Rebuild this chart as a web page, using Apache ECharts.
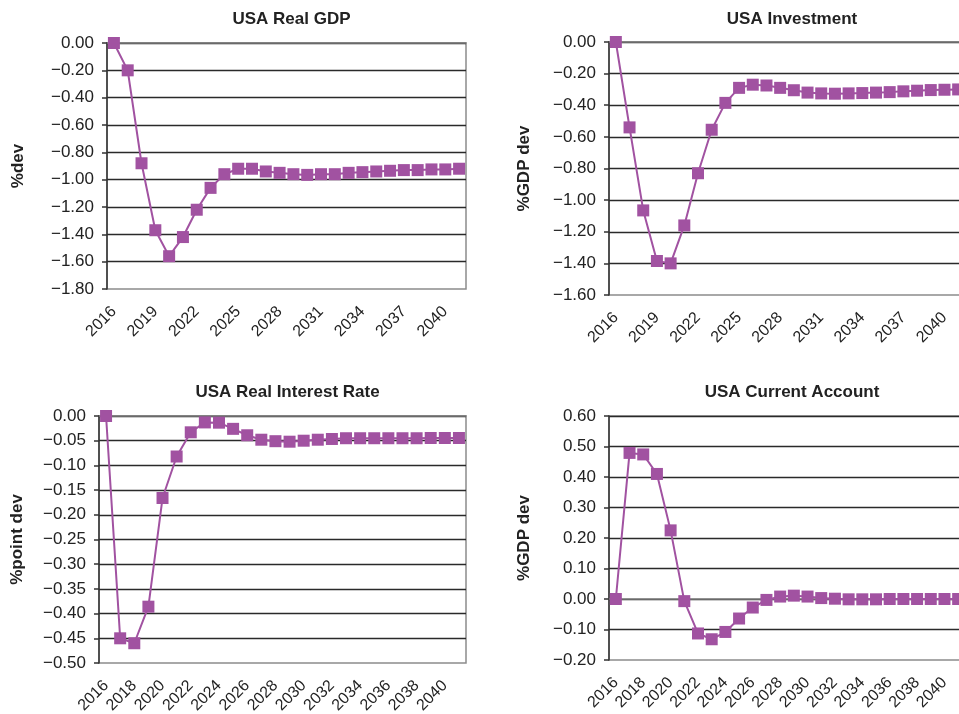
<!DOCTYPE html>
<html>
<head>
<meta charset="utf-8">
<script src="https://cdn.jsdelivr.net/npm/echarts@6/dist/echarts.min.js"></script>
<style>
  html, body { margin: 0; padding: 0; background: #fff; }
  #chart { width: 959px; height: 714px; }
</style>
</head>
<body>
<div id="chart"></div>
<script>
// Simulation years shared by all four panels
const years = ['2016','2017','2018','2019','2020','2021','2022','2023','2024','2025','2026','2027','2028',
               '2029','2030','2031','2032','2033','2034','2035','2036','2037','2038','2039','2040','2041'];

// USA Real GDP, %dev
const realGdp = [0, -0.20, -0.88, -1.37, -1.56, -1.42, -1.22, -1.06, -0.96, -0.92, -0.92, -0.94, -0.95,
                 -0.96, -0.965, -0.96, -0.96, -0.95, -0.945, -0.94, -0.935, -0.93, -0.93, -0.925, -0.925, -0.92];

// USA Investment, %GDP dev
const investment = [0, -0.54, -1.065, -1.385, -1.40, -1.16, -0.83, -0.555, -0.385, -0.29, -0.27, -0.275, -0.29,
                    -0.305, -0.32, -0.325, -0.327, -0.325, -0.323, -0.32, -0.317, -0.312, -0.308, -0.304, -0.302, -0.30];

// USA Real Interest Rate, %point dev
const realRate = [0, -0.45, -0.46, -0.386, -0.166, -0.082, -0.033, -0.013, -0.0135, -0.026, -0.039, -0.048, -0.051,
                  -0.052, -0.050, -0.048, -0.0465, -0.045, -0.045, -0.045, -0.045, -0.045, -0.045, -0.0445, -0.0445, -0.0445];

// USA Current Account, %GDP dev
const currentAccount = [0, 0.479, 0.474, 0.41, 0.225, -0.007, -0.113, -0.132, -0.108, -0.064, -0.028, -0.003, 0.008,
                        0.011, 0.008, 0.003, 0.001, -0.001, -0.001, -0.001, 0, 0, 0, 0, 0, 0];

const titles = ['USA Real GDP', 'USA Investment', 'USA Real Interest Rate', 'USA Current Account'];
const axisNames = ['%dev', '%GDP dev', '%point dev', '%GDP dev'];

const FONT = '"Liberation Sans", Arial, sans-serif';
const PURPLE = '#a152a1';

const panels = [
  { data: realGdp,        grid: { left: 107, top: 43,  width: 359, height: 246 }, min: -1.8, max: 0,   step: 0.2,  every: 2, gap: 80 },
  { data: investment,     grid: { left: 609, top: 42,  width: 356, height: 253 }, min: -1.6, max: 0,   step: 0.2,  every: 2, gap: 76 },
  { data: realRate,       grid: { left: 99,  top: 416, width: 367, height: 247 }, min: -0.5, max: 0,   step: 0.05, every: 1, gap: 73 },
  { data: currentAccount, grid: { left: 609, top: 416, width: 356, height: 244 }, min: -0.2, max: 0.6, step: 0.1,  every: 1, gap: 76 }
];

const fmt = v => {
  const s = Math.abs(v).toFixed(2);
  return (v < -1e-9 ? '\u2212' : '') + s;
};

const option = {
  animation: false,
  backgroundColor: '#fff',
  title: panels.map((p, i) => ({
    text: titles[i],
    left: p.grid.left + p.grid.width / 2,
    top: i < 2 ? 6 : 379,
    textAlign: 'center',
    textStyle: { fontFamily: FONT, fontSize: 17, fontWeight: 'bold', color: '#222' }
  })),
  grid: panels.map(p => Object.assign({
    show: true, borderColor: '#8c8c8c', borderWidth: 1.5, backgroundColor: 'transparent',
    outerBoundsMode: 'none', containLabel: false
  }, p.grid)),
  xAxis: panels.map((p, i) => ({
    type: 'category',
    gridIndex: i,
    data: years,
    boundaryGap: true,
    axisLine: { lineStyle: { color: '#808080', width: 1.5 } },
    axisTick: { show: false },
    axisLabel: {
      interval: p.every,
      rotate: 45,
      margin: 20,
      fontFamily: FONT,
      fontSize: 16,
      color: '#222'
    },
    splitLine: { show: false }
  })),
  yAxis: panels.map((p, i) => ({
    type: 'value',
    gridIndex: i,
    min: p.min,
    max: p.max,
    interval: p.step,
    name: axisNames[i],
    nameLocation: 'middle',
    nameGap: p.gap,
    nameTextStyle: { fontFamily: FONT, fontSize: 17, fontWeight: 'bold', color: '#222' },
    axisLine: { show: true, lineStyle: { color: '#333', width: 1.5 } },
    axisTick: { show: true, length: 5, lineStyle: { color: '#333', width: 1.5 } },
    axisLabel: { margin: 13, fontFamily: FONT, fontSize: 17, color: '#222', formatter: fmt },
    splitLine: { show: true, showMinLine: false, lineStyle: { color: '#2a2a2a', width: 1.3 } }
  })),
  series: panels.map((p, i) => ({
    type: 'line',
    xAxisIndex: i,
    yAxisIndex: i,
    data: p.data,
    symbol: 'rect',
    symbolSize: 12,
    showAllSymbol: true,
    lineStyle: { color: PURPLE, width: 2 },
    itemStyle: { color: PURPLE },
    z: 5
  }))
};

echarts.init(document.getElementById('chart'), null, { renderer: 'canvas' }).setOption(option);
</script>
</body>
</html>
